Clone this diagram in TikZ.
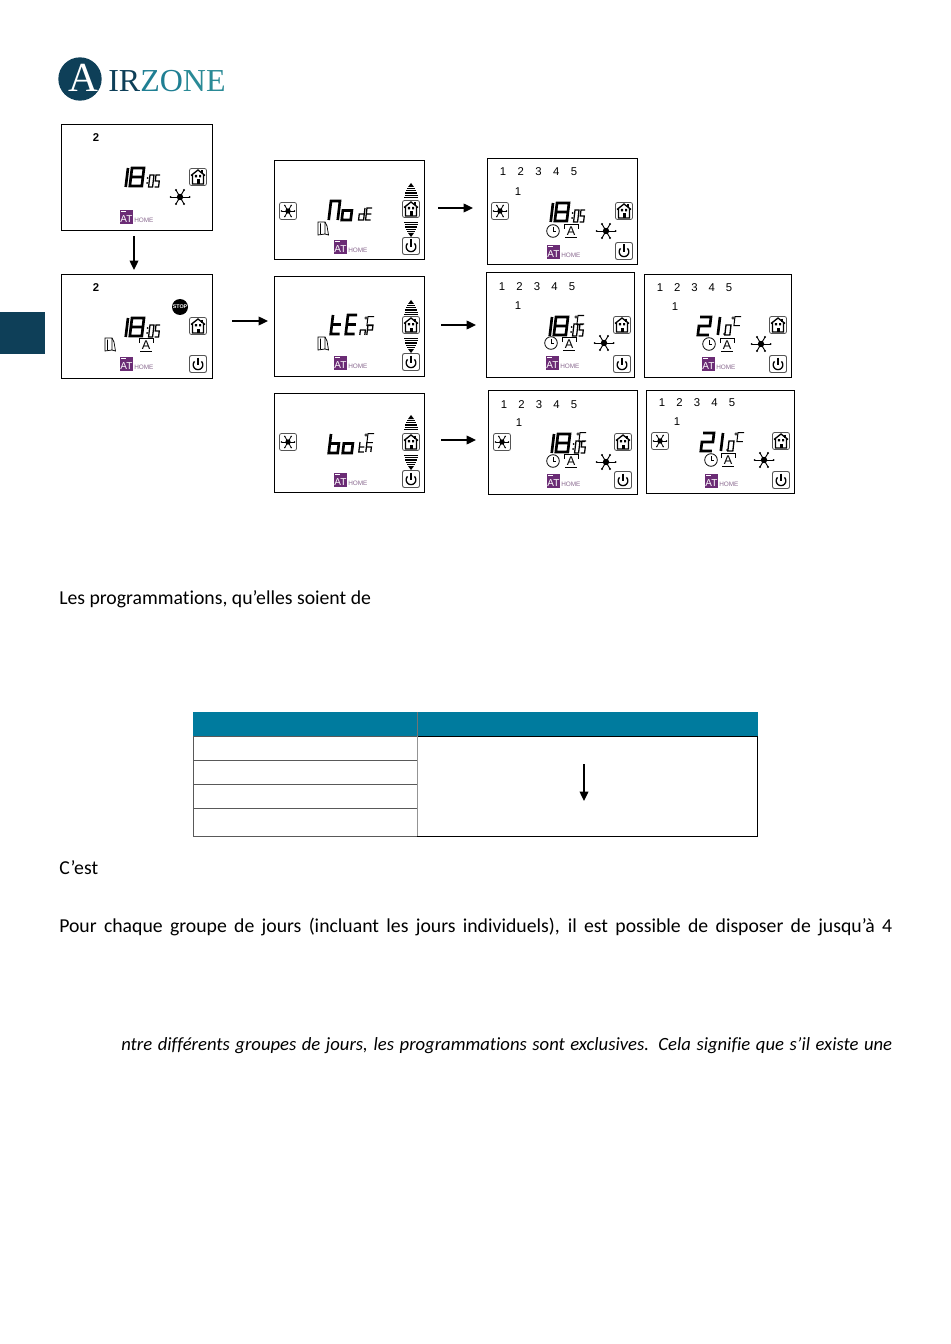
\documentclass[tikz,border=0pt]{standalone}
\usepackage{fontspec}
\setmainfont{Carlito}[Ligatures=CommonOff]
\newfontfamily\digitfont{Liberation Sans}
\newfontfamily\logofont{Liberation Serif}
\usetikzlibrary{arrows.meta}
\definecolor{navy}{HTML}{0E3F58}
\definecolor{tealA}{HTML}{1F7F93}
\definecolor{tealB}{HTML}{2A8A96}
\definecolor{hdr}{HTML}{007B9E}
\definecolor{atp}{HTML}{6B2C75}
\definecolor{homec}{HTML}{8A6A90}
\definecolor{btn}{HTML}{555555}
\def\gEight{(0,0)--(1,0)--(1,2)--(0,2)--cycle (0,1)--(1,1)}
\def\gOne{(1,0)--(1,2)}
\def\gZero{(0,0)--(1,0)--(1,2)--(0,2)--cycle}
\def\gFive{(1,0)--(0,0)--(0,1)--(1,1)--(1,2)--(0,2)}
\def\gTwo{(0,0)--(1,0)--(1,1)--(0,1)--(0,2)--(1,2)}
\def\gBigN{(0,2)--(0,0)--(1,0)--(1,2)}
\def\gO{(0,1)--(1,1)--(1,2)--(0,2)--cycle}
\def\gD{(1,0)--(1,2)--(0,2)--(0,1)--(1,1)}
\def\gE{(1,0)--(0,0)--(0,2)--(1,2) (0,1)--(1,1)}
\def\gT{(0,0)--(0,2)--(1,2) (0,1)--(1,1)}
\def\gSmallN{(0,2)--(0,1)--(1,1)--(1,2)}
\def\gP{(0,2)--(0,0)--(1,0)--(1,1)--(0,1)}
\def\gB{(0,0)--(0,2)--(1,2)--(1,1)--(0,1)}
\def\gH{(0,0)--(0,2) (0,1)--(1,1)--(1,2)}
\def\gC{(1,0)--(0,0)--(0,2)--(1,2)}
% x, y (top left), width, height, line width in pt, glyph
\newcommand\lcd[6]{\begin{scope}[shift={(#1,#2)},x=#3*0.75pt,y=-#4*0.375pt,xslant=0.12]
\draw[line width=#5pt,line join=miter] #6;\end{scope}}
\newcommand\timeshow[2]{%
\lcd{#1-1}{#2+1}{4}{19}{2}{\gOne}
\lcd{#1+7}{#2+1}{12}{18}{2}{\gEight}
\fill (#1+22.5,#2+11) circle (1) (#1+22,#2+16) circle (1);
\lcd{#1+25}{#2+8}{4}{12}{0.95}{\gZero}
\lcd{#1+31}{#2+8}{4}{12}{0.95}{\gFive}}
\newcommand\tempshow[2]{%
\lcd{#1}{#2+1}{11}{18}{2}{\gTwo}
\lcd{#1+16}{#2+1}{4}{18}{2}{\gOne}
\fill (#1+24,#2+18) circle (1);
\lcd{#1+26}{#2+9}{5}{10}{1}{\gZero}}
\newcommand\degC[2]{\draw[line width=0.4pt] (#1,#2) circle (1.3);
\lcd{#1+2}{#2-1.5}{6}{9}{0.75}{\gC}}
\newcommand\dayrow[6]{\foreach \dx/\dt in {0/1,1/2,2/3,3/4,4/5}{
\node[daynum] at ({#1+\dx*#2},#3) {\dt};}
\node[daynum] at (#4,#5) {1};}
\tikzset{
screen/.style={draw=black,line width=0.72pt,fill=white,inner sep=0pt,outer sep=0pt},
daynum/.style={inner sep=0pt,font=\digitfont\fontsize{8.5}{8.5}\selectfont},
flow/.style={line width=1pt,-{Triangle[length=7pt,width=6.5pt]}},
body/.style={anchor=west,inner sep=0pt,font=\fontsize{14.8}{14.8}\selectfont},
hcell/.style={fill=hdr,draw=none,inner sep=0pt,outer sep=0pt},
lcell/.style={draw=black!65,line width=0.75pt,inner sep=0pt,outer sep=0pt},
housebtn/.pic={
 \draw[btn,line width=0.6pt,rounded corners=1.5pt] (-8.5,-8.5) rectangle (8.5,8.5);
 \draw[line width=1pt,line join=miter] (-7,-1.5)--(0,-7)--(7,-1.5) (-5.5,-2.5)--(-5.5,7)--(5.5,7)--(5.5,-2.5);
 \fill (-1.5,2.5) rectangle (1.5,7);
 \fill (-3.2,-2) rectangle (-1,0.4) (1,-2) rectangle (3.2,0.4);
 \draw[line width=0.8pt] (4,-6.5)--(4,-3.5);
},
sunicon/.pic={
 \fill (0,0) circle (3.2);
 \foreach \a in {60,120,240,300}{
  \draw[line width=0.7pt] (0,0)--(\a:8);
  \fill (\a:8) circle (1.1);}
 \draw[line width=0.7pt] (-9.5,0)--(9.5,0);
 \fill (-9.5,0) circle (1) (9.5,0) circle (1);
},
sunbtn/.pic={
 \draw[btn,line width=0.6pt,rounded corners=1.5pt] (-8.5,-8.5) rectangle (8.5,8.5);
 \fill (0,0) circle (2.7);
 \foreach \a in {0,60,120,180,240,300}{
  \draw[line width=0.6pt] (0,0)--(\a:6.5);
  \fill (\a:6.5) circle (0.8);}
},
powerbtn/.pic={
 \draw[btn,line width=0.7pt,rounded corners=1.5pt] (-8.5,-8.5) rectangle (8.5,8.5);
 \draw[line width=1pt] plot[smooth,domain=-45:225,samples=25] ({4.8*cos(\x)},{0.8+4.8*sin(\x)});
 \draw[line width=1pt] (0,-6.5)--(0,1);
},
uparrows/.pic={
 \fill (0,-9)--(-3,-5)--(3,-5)--cycle;
 \foreach \i/\w in {-3.7/4,-1.3/5,1/6,3.3/6.5,5.7/7}{
  \draw[line width=1pt] (-\w,\i)--(\w,\i);}
},
downarrows/.pic={
 \fill (0,9)--(-3,5)--(3,5)--cycle;
 \foreach \i/\w in {3.7/4,1.3/5,-1/6,-3.3/6.5,-5.7/7}{
  \draw[line width=1pt] (-\w,\i)--(\w,\i);}
},
clockicon/.pic={
 \draw[line width=0.6pt] (0,0) circle (6.3);
 \draw[line width=0.6pt] (0,-4)--(0,0)--(3,0);
},
abox/.pic={
 \node[inner sep=0pt,font=\digitfont\fontsize{9.5}{9.5}\selectfont] at (0,0.3) {A};
 \draw[line width=0.6pt] (-7,-2)--(-7,-6.5)--(7,-6.5)--(7,-2) (-6,6.5)--(6,6.5);
},
dooricon/.pic={
 \draw[line width=0.55pt,fill=white] (-5,-7)--(2,-7)--(2,5)--(-5,6)--cycle;
 \draw[line width=0.55pt] (2,-7)--(4,-3)--(5.5,6)--(2,5) (-2.5,-5.5)--(-2.5,5);
},
stopicon/.pic={
 \fill (0,0) circle (8);
 \node[inner sep=0pt,text=white,font=\digitfont\bfseries\fontsize{4}{4}\selectfont] at (0,0) {STOP};
},
athome/.pic={
 \fill[atp] (0,0) rectangle (13,14);
 \fill[white] (1,1) rectangle (6,2);
 \node[inner sep=0pt,text=white,font=\digitfont\fontsize{7.5}{7.5}\selectfont] at (6.5,9.4) {AT};
 \node[inner sep=0pt,anchor=west,text=homec,font=\digitfont\fontsize{4.8}{4.8}\selectfont] at (14,10) {HOME};
},
}
\begin{document}
\begin{tikzpicture}[x=0.75pt,y=-0.75pt]
\useasboundingbox (0,0) rectangle (950,1344);
\fill[white] (0,0) rectangle (950,1344);
% side tab
\node[fill=navy,inner sep=0pt,minimum width=33.75pt,minimum height=31.5pt] (tab) at (22.5,333) {};
% logo
\node[fill=navy,circle,inner sep=0pt,minimum size=32.5pt] (logoc) at (80,79) {};
\node[inner sep=0pt,text=white,font=\logofont\fontsize{31}{31}\selectfont,anchor=base] (logoa) at (83,92) {A};
\node[inner sep=0pt,anchor=base west,font=\logofont\fontsize{24}{24}\selectfont] (logot) at (108,92)
 {\textcolor{navy}{IR}\textcolor{tealA}{ZO}\textcolor{tealB}{NE}};
% screens
\node[screen,minimum width=113.25pt,minimum height=79.5pt] (s1) at (136.5,177) {};
\node[screen,minimum width=113.25pt,minimum height=78pt] (s2) at (136.5,326) {};
\node[screen,minimum width=112.5pt,minimum height=74.25pt] (m1) at (349.5,209.5) {};
\node[screen,minimum width=112.5pt,minimum height=75pt] (m2) at (349.5,326) {};
\node[screen,minimum width=112.5pt,minimum height=74.25pt] (m3) at (349.5,442.5) {};
\node[screen,minimum width=112.5pt,minimum height=79.5pt] (r1) at (562,211) {};
\node[screen,minimum width=111pt,minimum height=78.75pt] (r2) at (560.5,324.5) {};
\node[screen,minimum width=110.25pt,minimum height=77.25pt] (r3) at (717.75,325.5) {};
\node[screen,minimum width=111.75pt,minimum height=78pt] (r4) at (562.5,442.5) {};
\node[screen,minimum width=111pt,minimum height=77.25pt] (r5) at (720.5,441.5) {};
% arrows
\coordinate (a1) at (134,236); \coordinate (a2) at (134,270);
\coordinate (b1) at (232,321); \coordinate (b2) at (268,321);
\coordinate (c1) at (438,208); \coordinate (c2) at (473,208);
\coordinate (d1) at (441,325); \coordinate (d2) at (476,325);
\coordinate (e1) at (441,440); \coordinate (e2) at (476,440);
\draw[flow] (a1)--(a2);
\draw[flow] (b1)--(b2);
\draw[flow] (c1)--(c2);
\draw[flow] (d1)--(d2);
\draw[flow] (e1)--(e2);
% s1
\node[daynum,font=\digitfont\bfseries\fontsize{8.5}{8.5}\selectfont] at (96,138) {2};
\timeshow{125}{167}
\pic at (198,177) {housebtn};
\pic at (180,197) {sunicon};
\pic at (120,210) {athome};
% s2
\node[daynum,font=\digitfont\bfseries\fontsize{8.5}{8.5}\selectfont] at (96,288) {2};
\pic at (180,307) {stopicon};
\timeshow{125}{317}
\pic at (198,326) {housebtn};
\pic at (110,345) {dooricon};
\pic at (146,345) {abox};
\pic at (120,357) {athome};
\pic at (198,364) {powerbtn};
% m1
\pic at (288,211) {sunbtn};
\lcd{331}{201}{9}{19}{2}{\gBigN}
\lcd{344}{201}{9}{19}{2}{\gO}
\lcd{360}{208}{5}{12}{0.95}{\gD}
\lcd{367}{208}{5}{12}{0.95}{\gE}
\pic at (323,229) {dooricon};
\pic at (334,240) {athome};
\pic at (411,192) {uparrows};
\pic at (411,209) {housebtn};
\pic at (411,228) {downarrows};
\pic at (411,246) {powerbtn};
% m2
\lcd{333}{315}{9}{19}{2}{\gT}
\lcd{348}{315}{9}{19}{2}{\gE}
\lcd{361}{325}{5}{10}{0.95}{\gSmallN}
\lcd{368}{325}{5}{10}{0.95}{\gP}
\degC{366}{318}
\pic at (323,344) {dooricon};
\pic at (334,356) {athome};
\pic at (411,309) {uparrows};
\pic at (411,325) {housebtn};
\pic at (411,344) {downarrows};
\pic at (411,362) {powerbtn};
% m3
\pic at (288,442) {sunbtn};
\lcd{331}{434}{9}{19}{2}{\gB}
\lcd{345}{434}{9}{19}{2}{\gO}
\lcd{360}{442}{5}{10}{0.95}{\gT}
\lcd{367}{442}{5}{10}{0.95}{\gH}
\degC{366}{435}
\pic at (334,473) {athome};
\pic at (411,424) {uparrows};
\pic at (411,442) {housebtn};
\pic at (411,461) {downarrows};
\pic at (411,479) {powerbtn};
% r1
\dayrow{503}{17.75}{172}{518}{192}{}
\pic at (500,211) {sunbtn};
\timeshow{550}{202}
\pic at (624,211) {housebtn};
\pic at (553,231) {clockicon};
\pic at (571,231) {abox};
\pic at (606,231) {sunicon};
\pic at (547,245) {athome};
\pic at (624,251) {powerbtn};
% r2
\dayrow{502}{17.5}{287}{518}{306}{}
\timeshow{549}{316}
\degC{576}{317}
\pic at (622,325) {housebtn};
\pic at (551,343) {clockicon};
\pic at (569,344) {abox};
\pic at (604,343) {sunicon};
\pic at (546,356) {athome};
\pic at (622,364) {powerbtn};
% r3
\dayrow{660}{17.25}{288}{675}{307}{}
\tempshow{700}{316}
\degC{733}{318}
\pic at (778,325) {housebtn};
\pic at (709,344) {clockicon};
\pic at (727,345) {abox};
\pic at (761,344) {sunicon};
\pic at (702,357) {athome};
\pic at (778,364) {powerbtn};
% r4
\dayrow{504}{17.5}{405}{519}{423}{}
\pic at (502,442) {sunbtn};
\timeshow{551}{433}
\degC{578}{434}
\pic at (623,442) {housebtn};
\pic at (553,461) {clockicon};
\pic at (571,461) {abox};
\pic at (606,462) {sunicon};
\pic at (547,474) {athome};
\pic at (623,480) {powerbtn};
% r5
\dayrow{662}{17.5}{403}{677}{422}{}
\pic at (660,441) {sunbtn};
\tempshow{703}{432}
\degC{736}{434}
\pic at (781,441) {housebtn};
\pic at (711,460) {clockicon};
\pic at (728,460) {abox};
\pic at (764,460) {sunicon};
\pic at (705,474) {athome};
\pic at (781,480) {powerbtn};
% body text
\node[body] (t1) at (59,599) {Les programmations, qu’elles soient de};
\node[body] (t2) at (59,868) {C’est};
\node[body] (t3) at (59,927) {\makebox[624.75pt][s]{Pour chaque groupe de jours (incluant les jours individuels), il est possible de disposer de jusqu’à 4}};
\node[body,font=\fontsize{14}{14}\selectfont] (t4) at (121,1046) {\makebox[578.25pt][s]{\itshape ntre différents groupes de jours, les programmations sont exclusives. Cela signifie que s’il existe une}};
% table
\node[lcell,minimum width=168pt,minimum height=18pt] (c1) at (305.5,748) {};
\node[lcell,minimum width=168pt,minimum height=18pt] (c2) at (305.5,772) {};
\node[lcell,minimum width=168pt,minimum height=18pt] (c3) at (305.5,796) {};
\node[lcell,minimum width=168pt,minimum height=21pt] (c4) at (305.5,822) {};
\node[draw=black,line width=0.75pt,minimum width=255pt,minimum height=75pt,inner sep=0pt,outer sep=0pt] (cr) at (587.5,786) {};
\draw[black!42,line width=1.2pt] (cr.north west)--(cr.south west);
\node[hcell,minimum width=168.75pt,minimum height=18pt] (h1) at (305.25,724) {};
\node[hcell,minimum width=255pt,minimum height=18pt] (h2) at (587.5,724) {};
\draw[black!55,line width=0.5pt] (h2.north west)--(h2.south west);
\coordinate (f1) at (584,764); \coordinate (f2) at (584,801);
\draw[flow] (f1)--(f2);
\end{tikzpicture}
\end{document}
